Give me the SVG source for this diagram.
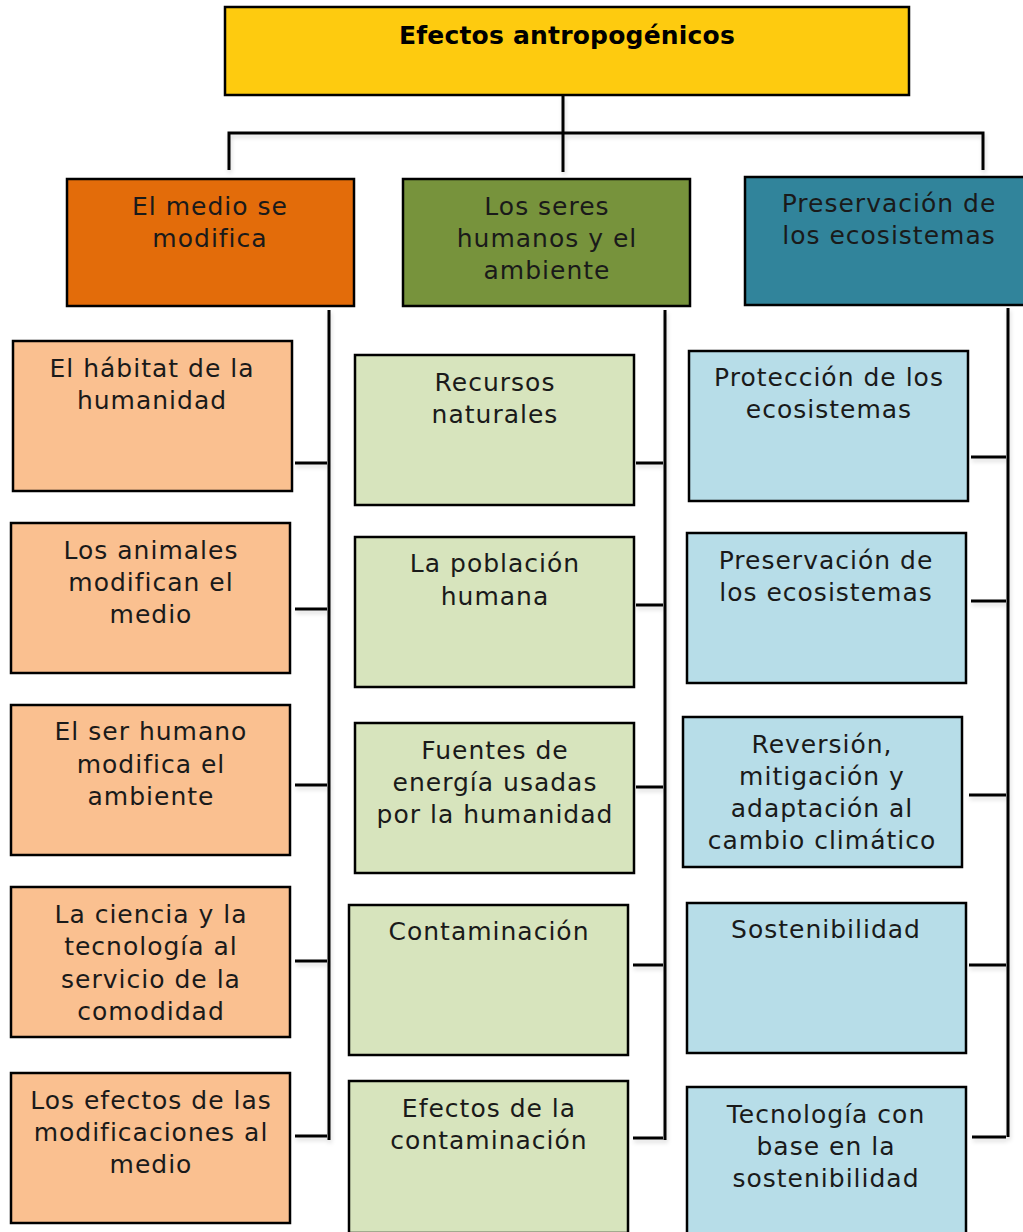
<svg xmlns="http://www.w3.org/2000/svg" width="1023" height="1232" viewBox="0 0 1023 1232">
<style>
.box{stroke:#000;stroke-width:2.5}
.top{fill:#FECB0F}
.l1a{fill:#E36C0A}.l1b{fill:#77933C}.l1c{fill:#31849B}
.ora{fill:#FAC090}.grn{fill:#D7E4BD}.blu{fill:#B7DDE8}
text{font-family:"DejaVu Sans","Liberation Sans",sans-serif;font-size:25px;letter-spacing:1px;fill:#1a1a1a;text-anchor:middle}
.title{font-weight:bold;font-size:25px;letter-spacing:0.2px;fill:#000}
.con{fill:none;stroke:#000;stroke-width:3}
</style>
<defs>
<filter id="sh" x="-5%" y="-5%" width="110%" height="110%">
<feDropShadow dx="1" dy="3" stdDeviation="2" flood-color="#000" flood-opacity="0.15"/>
</filter>
</defs>
<g id="connectors" class="con" filter="url(#sh)">
<path d="M563 95V172"/>
<path d="M229 170V133H983V170"/>
<path d="M329 310V1140"/>
<path d="M665 310V1140"/>
<path d="M1008 308V1137"/>
<path d="M295 463H327"/><path d="M295 609H327"/><path d="M295 785H327"/><path d="M295 961H327"/><path d="M295 1136H327"/>
<path d="M636 463H663"/><path d="M636 605H663"/><path d="M636 787H663"/><path d="M633 965H663"/><path d="M633 1138H663"/>
<path d="M971 457H1006"/><path d="M971 601H1006"/><path d="M969 795H1006"/><path d="M969 965H1006"/><path d="M972 1137H1006"/>
</g>
<g id="n-top"><rect class="box top" x="225" y="7" width="684" height="88"/><text class="title" x="567" y="44">Efectos antropogénicos</text></g>
<g id="n-medio"><rect class="box l1a" x="67" y="179" width="287" height="127"/><text x="210" y="215">El medio se</text><text x="210" y="247">modifica</text></g>
<g id="n-seres"><rect class="box l1b" x="403" y="179" width="287" height="127"/><text x="547" y="215">Los seres</text><text x="547" y="247">humanos y el</text><text x="547" y="279">ambiente</text></g>
<g id="n-pres"><rect class="box l1c" x="745" y="177" width="290" height="128"/><text x="889" y="212">Preservación de</text><text x="889" y="244">los ecosistemas</text></g>

<g id="n-a1"><rect class="box ora" x="13" y="341" width="279" height="150"/><text x="152" y="377">El hábitat de la</text><text x="152" y="409">humanidad</text></g>
<g id="n-a2"><rect class="box ora" x="11" y="523" width="279" height="150"/><text x="151" y="559">Los animales</text><text x="151" y="591">modifican el</text><text x="151" y="623">medio</text></g>
<g id="n-a3"><rect class="box ora" x="11" y="705" width="279" height="150"/><text x="151" y="740">El ser humano</text><text x="151" y="773">modifica el</text><text x="151" y="805">ambiente</text></g>
<g id="n-a4"><rect class="box ora" x="11" y="887" width="279" height="150"/><text x="151" y="923">La ciencia y la</text><text x="151" y="955">tecnología al</text><text x="151" y="988">servicio de la</text><text x="151" y="1020">comodidad</text></g>
<g id="n-a5"><rect class="box ora" x="11" y="1073" width="279" height="150"/><text x="151" y="1109">Los efectos de las</text><text x="151" y="1141">modificaciones al</text><text x="151" y="1173">medio</text></g>

<g id="n-b1"><rect class="box grn" x="355" y="355" width="279" height="150"/><text x="495" y="391">Recursos</text><text x="495" y="423">naturales</text></g>
<g id="n-b2"><rect class="box grn" x="355" y="537" width="279" height="150"/><text x="495" y="572">La población</text><text x="495" y="605">humana</text></g>
<g id="n-b3"><rect class="box grn" x="355" y="723" width="279" height="150"/><text x="495" y="759">Fuentes de</text><text x="495" y="791">energía usadas</text><text x="495" y="823">por la humanidad</text></g>
<g id="n-b4"><rect class="box grn" x="349" y="905" width="279" height="150"/><text x="489" y="940">Contaminación</text></g>
<g id="n-b5"><rect class="box grn" x="349" y="1081" width="279" height="152"/><text x="489" y="1117">Efectos de la</text><text x="489" y="1149">contaminación</text></g>

<g id="n-c1"><rect class="box blu" x="689" y="351" width="279" height="150"/><text x="829" y="386">Protección de los</text><text x="829" y="418">ecosistemas</text></g>
<g id="n-c2"><rect class="box blu" x="687" y="533" width="279" height="150"/><text x="826" y="569">Preservación de</text><text x="826" y="601">los ecosistemas</text></g>
<g id="n-c3"><rect class="box blu" x="683" y="717" width="279" height="150"/><text x="822" y="753">Reversión,</text><text x="822" y="785">mitigación y</text><text x="822" y="817">adaptación al</text><text x="822" y="849">cambio climático</text></g>
<g id="n-c4"><rect class="box blu" x="687" y="903" width="279" height="150"/><text x="826" y="938">Sostenibilidad</text></g>
<g id="n-c5"><rect class="box blu" x="687" y="1087" width="279" height="150"/><text x="826" y="1123">Tecnología con</text><text x="826" y="1155">base en la</text><text x="826" y="1187">sostenibilidad</text></g>
</svg>
